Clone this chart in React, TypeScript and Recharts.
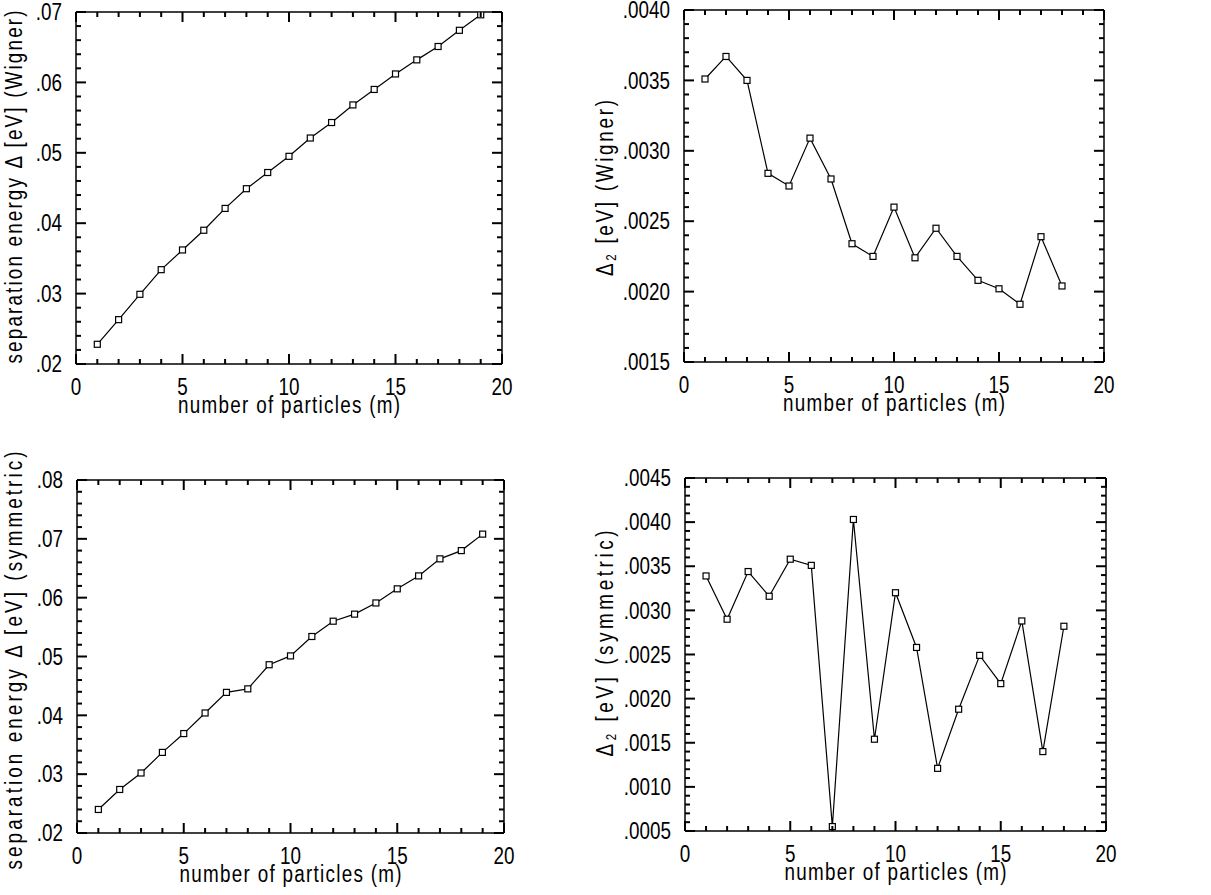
import React from "react"
import { LineChart, Line, XAxis, YAxis } from "recharts"

// number of particles m
const mWigner = [1, 2, 3, 4, 5, 6, 7, 8, 9, 10, 11, 12, 13, 14, 15, 16, 17, 18, 19]
const mDelta2 = [1, 2, 3, 4, 5, 6, 7, 8, 9, 10, 11, 12, 13, 14, 15, 16, 17, 18]

// separation energy Δ [eV] (Wigner)
const wignerDelta = [
  0.0228, 0.0263, 0.0299, 0.0334, 0.0362, 0.039, 0.0421, 0.0449, 0.0472, 0.0495, 0.0521, 0.0543,
  0.0568, 0.059, 0.0612, 0.0632, 0.0651, 0.0674, 0.0696,
]
// Δ2 [eV] (Wigner)
const wignerDelta2 = [
  0.00351, 0.00367, 0.0035, 0.00284, 0.00275, 0.00309, 0.0028, 0.00234, 0.00225, 0.0026, 0.00224,
  0.00245, 0.00225, 0.00208, 0.00202, 0.00191, 0.00239, 0.00204,
]
// separation energy Δ [eV] (symmetric)
const symDelta = [
  0.024, 0.0274, 0.0302, 0.0337, 0.0369, 0.0404, 0.0439, 0.0445, 0.0486, 0.0501, 0.0534, 0.056,
  0.0572, 0.0591, 0.0615, 0.0637, 0.0666, 0.068, 0.0708,
]
// Δ2 [eV] (symmetric)
const symDelta2 = [
  0.00339, 0.0029, 0.00344, 0.00316, 0.00358, 0.00351, 0.00055, 0.00403, 0.00154, 0.0032, 0.00258,
  0.00121, 0.00188, 0.00249, 0.00217, 0.00288, 0.0014, 0.00282,
]

const xTicks = [0, 1, 2, 3, 4, 5, 6, 7, 8, 9, 10, 11, 12, 13, 14, 15, 16, 17, 18, 19, 20]

const FONT = "'Liberation Sans', Arial, sans-serif"
const SX = 0.82 // narrow the glyphs like the plotter font
const FS = 23
const MINOR = 5
const MAJOR = 10
const TW = 2 // tick stroke width

function steps(from: number, to: number, step: number) {
  const out: number[] = []
  const n = Math.round((to - from) / step)
  for (let i = 0; i <= n; i++) out.push(+(from + i * step).toFixed(6))
  return out
}

const isMajor = (v: number, major: number) => Math.abs(v / major - Math.round(v / major)) < 1e-6

function NarrowText(props: {
  x: number
  y: number
  anchor: "start" | "middle" | "end"
  rotate?: boolean
  length?: number
  children: React.ReactNode
}) {
  const { x, y, anchor, rotate, length, children } = props
  return (
    <text
      transform={`translate(${x} ${y})${rotate ? " rotate(-90)" : ""} scale(${SX} 1)`}
      textAnchor={anchor}
      dominantBaseline="central"
      fontSize={FS}
      fontFamily={FONT}
      fill="#000"
      textLength={length ? length / SX : undefined}
      lengthAdjust="spacing"
    >
      {children}
    </text>
  )
}

// with tickSize 0 / tickMargin 0 the tick (x, y) sits on the axis line
function BottomTick(props: any) {
  const x = Number(props.x)
  const y = Number(props.y)
  const major = isMajor(props.payload.value, 5)
  return (
    <g>
      <path d={`M${x},${y}V${y - (major ? MAJOR : MINOR)}`} stroke="#000" strokeWidth={TW} fill="none" />
      {major && (
        <NarrowText x={x} y={y + 23} anchor="middle">
          {props.payload.value}
        </NarrowText>
      )}
    </g>
  )
}

function TopTick(props: any) {
  const x = Number(props.x)
  const y = Number(props.y)
  const major = isMajor(props.payload.value, 5)
  return <path d={`M${x},${y}V${y + (major ? MAJOR : MINOR)}`} stroke="#000" strokeWidth={TW} fill="none" />
}

function makeLeftTick(major: number, decimals: number) {
  return function LeftTick(props: any) {
    const x = Number(props.x)
    const y = Number(props.y)
    const isM = isMajor(props.payload.value, major)
    return (
      <g>
        <path d={`M${x},${y}H${x + (isM ? MAJOR : MINOR)}`} stroke="#000" strokeWidth={TW} fill="none" />
        {isM && (
          <NarrowText x={x - 14} y={y} anchor="end">
            {props.payload.value.toFixed(decimals).replace(/^0/, "")}
          </NarrowText>
        )}
      </g>
    )
  }
}

function makeRightTick(major: number) {
  return function RightTick(props: any) {
    const x = Number(props.x)
    const y = Number(props.y)
    const isM = isMajor(props.payload.value, major)
    return <path d={`M${x},${y}H${x - (isM ? MAJOR : MINOR)}`} stroke="#000" strokeWidth={TW} fill="none" />
  }
}

function SquareDot(props: any) {
  const { cx, cy, index } = props
  if (cx == null || cy == null) return null
  return <rect key={index} x={cx - 3} y={cy - 3} width={6} height={6} fill="#fff" stroke="#000" strokeWidth={1.2} />
}

interface PanelProps {
  left: number
  top: number
  width: number
  height: number
  margin: { top: number; right: number; bottom: number; left: number }
  yWidth: number
  xs: number[]
  ys: number[]
  yDomain: [number, number]
  yMajor: number
  yMinor: number
  decimals: number
  yTitle: React.ReactNode
  yTitleLen: number
  yTitleX: number
  yTitleDy: number
}

function Panel(p: PanelProps) {
  const data = p.xs.map((m, i) => ({ m, v: p.ys[i] }))
  const yTicks = steps(p.yDomain[0], p.yDomain[1], p.yMinor)
  const axisLine = { stroke: "#000", strokeWidth: 1.5 }
  // the top / right frame axes take 1px, so shave it off the margins
  const margin = { ...p.margin, top: p.margin.top - 1, right: p.margin.right - 1 }
  const common = {
    type: "number" as const,
    interval: 0 as const,
    allowDataOverflow: true,
    tickSize: 0,
    tickMargin: 0,
    tickLine: false,
    axisLine,
  }
  return (
    <div style={{ position: "absolute", left: p.left, top: p.top }}>
      <LineChart width={p.width} height={p.height} data={data} margin={margin}>
        <XAxis
          {...common}
          dataKey="m"
          domain={[0, 20]}
          ticks={xTicks}
          height={50}
          tick={<BottomTick />}
          label={{
            content: (lp: any) => {
              const vb = lp.viewBox
              return (
                <NarrowText x={vb.x + vb.width / 2} y={vb.y + 41} anchor="middle" length={222}>
                  number of particles (m)
                </NarrowText>
              )
            },
          }}
        />
        <XAxis
          {...common}
          xAxisId="top"
          orientation="top"
          dataKey="m"
          domain={[0, 20]}
          ticks={xTicks}
          height={1}
          tick={<TopTick />}
        />
        <YAxis
          {...common}
          domain={p.yDomain}
          ticks={yTicks}
          width={p.yWidth}
          tick={makeLeftTick(p.yMajor, p.decimals)}
          label={{
            content: (lp: any) => {
              const vb = lp.viewBox
              return (
                <NarrowText
                  x={vb.x + p.yTitleX}
                  y={vb.y + vb.height / 2 + p.yTitleDy}
                  anchor="middle"
                  rotate
                  length={p.yTitleLen}
                >
                  {p.yTitle}
                </NarrowText>
              )
            },
          }}
        />
        <YAxis
          {...common}
          yAxisId="right"
          orientation="right"
          domain={p.yDomain}
          ticks={yTicks}
          width={1}
          tick={makeRightTick(p.yMajor)}
        />
        {/* invisible copy so the top and right frame axes are bound to data */}
        <Line
          xAxisId="top"
          yAxisId="right"
          dataKey="v"
          stroke="none"
          dot={false}
          activeDot={false}
          isAnimationActive={false}
        />
        <Line
          dataKey="v"
          type="linear"
          stroke="#000"
          strokeWidth={1.2}
          dot={<SquareDot />}
          activeDot={false}
          isAnimationActive={false}
        />
      </LineChart>
    </div>
  )
}

const delta2Title = (suffix: string) => (
  <>
    <tspan>Δ</tspan>
    <tspan dy={7} fontSize={14}>
      2
    </tspan>
    <tspan dy={-7}>{` [eV] (${suffix})`}</tspan>
  </>
)

export default function App() {
  return (
    <div style={{ position: "absolute", left: 0, top: 0, width: 1211, height: 895, background: "#fff" }}>
      <Panel
        left={0}
        top={0}
        width={600}
        height={440}
        margin={{ top: 12, right: 98, bottom: 26, left: 0 }}
        yWidth={76}
        xs={mWigner}
        ys={wignerDelta}
        yDomain={[0.02, 0.07]}
        yMajor={0.01}
        yMinor={0.002}
        decimals={2}
        yTitle="separation energy Δ [eV] (Wigner)"
        yTitleLen={353}
        yTitleX={14}
        yTitleDy={-1}
      />
      <Panel
        left={590}
        top={0}
        width={621}
        height={440}
        margin={{ top: 10, right: 107, bottom: 28, left: 0 }}
        yWidth={94}
        xs={mDelta2}
        ys={wignerDelta2}
        yDomain={[0.0015, 0.004]}
        yMajor={0.0005}
        yMinor={0.0001}
        decimals={4}
        yTitle={delta2Title("Wigner")}
        yTitleLen={176}
        yTitleX={14}
        yTitleDy={2}
      />
      <Panel
        left={0}
        top={440}
        width={600}
        height={455}
        margin={{ top: 40, right: 96, bottom: 12, left: 0 }}
        yWidth={77}
        xs={mWigner}
        ys={symDelta}
        yDomain={[0.02, 0.08]}
        yMajor={0.01}
        yMinor={0.002}
        decimals={2}
        yTitle="separation energy Δ [eV] (symmetric)"
        yTitleLen={418}
        yTitleX={14}
        yTitleDy={4}
      />
      <Panel
        left={590}
        top={440}
        width={621}
        height={455}
        margin={{ top: 38, right: 105, bottom: 14, left: 0 }}
        yWidth={95}
        xs={mDelta2}
        ys={symDelta2}
        yDomain={[0.0005, 0.0045]}
        yMajor={0.0005}
        yMinor={0.0001}
        decimals={4}
        yTitle={delta2Title("symmetric")}
        yTitleLen={226}
        yTitleX={14}
        yTitleDy={-11}
      />
    </div>
  )
}
